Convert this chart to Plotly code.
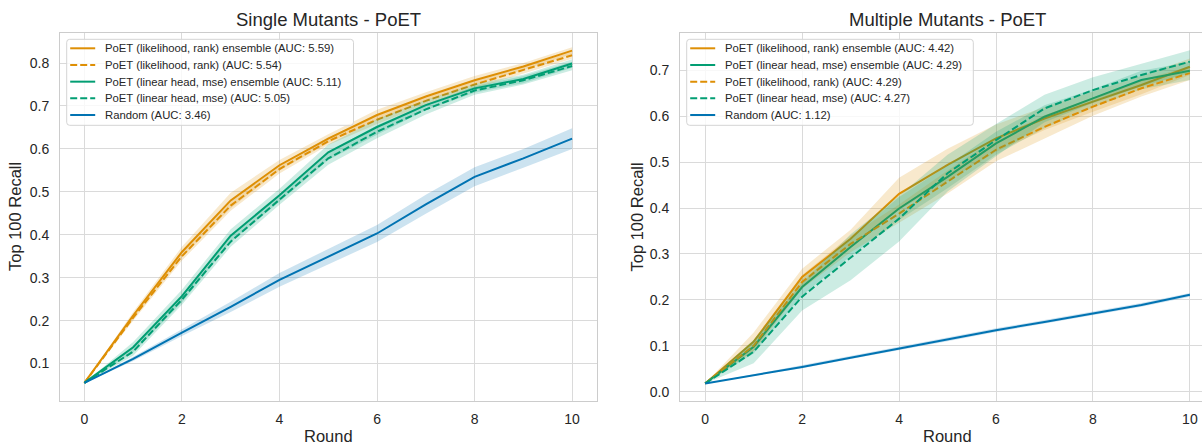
import plotly.graph_objects as go

W, H = 1202, 444

rounds = list(range(11))

# ---- Single Mutants - PoET ----
single_lr_ens = [0.055, 0.212, 0.360, 0.480, 0.562, 0.624, 0.679, 0.722, 0.760, 0.792, 0.829]
single_lr = [0.055, 0.207, 0.350, 0.468, 0.553, 0.618, 0.668, 0.712, 0.750, 0.784, 0.818]
single_lh_ens = [0.055, 0.138, 0.257, 0.398, 0.492, 0.592, 0.651, 0.702, 0.741, 0.763, 0.799]
single_lh = [0.055, 0.128, 0.249, 0.384, 0.482, 0.578, 0.640, 0.692, 0.736, 0.760, 0.793]
single_random = [0.055, 0.111, 0.172, 0.232, 0.295, 0.349, 0.403, 0.471, 0.535, 0.578, 0.624]

single_lr_ens_err = [0, 0.008, 0.012, 0.018, 0.012, 0.010, 0.012, 0.010, 0.010, 0.008, 0.008]
single_lr_err = [0, 0.007, 0.010, 0.012, 0.010, 0.009, 0.010, 0.009, 0.009, 0.008, 0.008]
single_lh_ens_err = [0, 0.012, 0.015, 0.015, 0.015, 0.018, 0.018, 0.012, 0.010, 0.010, 0.010]
single_lh_err = [0, 0.010, 0.012, 0.012, 0.012, 0.015, 0.015, 0.012, 0.010, 0.010, 0.010]
single_random_err = [0, 0.005, 0.008, 0.012, 0.016, 0.018, 0.020, 0.022, 0.022, 0.022, 0.024]

# ---- Multiple Mutants - PoET ----
multi_lr_ens = [0.018, 0.109, 0.250, 0.333, 0.431, 0.494, 0.552, 0.595, 0.632, 0.668, 0.708]
multi_lh_ens = [0.018, 0.098, 0.228, 0.315, 0.399, 0.468, 0.541, 0.599, 0.639, 0.679, 0.699]
multi_lr = [0.018, 0.100, 0.239, 0.322, 0.388, 0.457, 0.527, 0.577, 0.621, 0.661, 0.694]
multi_lh = [0.018, 0.087, 0.207, 0.293, 0.377, 0.476, 0.548, 0.617, 0.657, 0.690, 0.719]
multi_random = [0.018, 0.036, 0.054, 0.074, 0.094, 0.114, 0.134, 0.152, 0.171, 0.189, 0.211]

multi_lr_ens_err = [0, 0.020, 0.018, 0.020, 0.035, 0.035, 0.030, 0.025, 0.022, 0.020, 0.018]
multi_lh_ens_err = [0, 0.015, 0.018, 0.020, 0.025, 0.025, 0.025, 0.025, 0.020, 0.020, 0.020]
multi_lr_err = [0, 0.012, 0.015, 0.018, 0.020, 0.025, 0.025, 0.025, 0.020, 0.018, 0.015]
multi_lh_err = [0, 0.025, 0.030, 0.050, 0.050, 0.040, 0.035, 0.030, 0.028, 0.025, 0.025]
multi_random_err = [0, 0.002, 0.003, 0.003, 0.004, 0.004, 0.004, 0.004, 0.004, 0.004, 0.004]

single_labels = [
    "PoET (likelihood, rank) ensemble (AUC: 5.59)",
    "PoET (likelihood, rank) (AUC: 5.54)",
    "PoET (linear head, mse) ensemble (AUC: 5.11)",
    "PoET (linear head, mse) (AUC: 5.05)",
    "Random (AUC: 3.46)",
]
multi_labels = [
    "PoET (likelihood, rank) ensemble (AUC: 4.42)",
    "PoET (linear head, mse) ensemble (AUC: 4.29)",
    "PoET (likelihood, rank) (AUC: 4.29)",
    "PoET (linear head, mse) (AUC: 4.27)",
    "Random (AUC: 1.12)",
]

ORANGE = (222, 143, 5)
GREEN = (2, 158, 115)
BLUE = (1, 115, 178)
FONT = "Liberation Sans, Arial, Helvetica, sans-serif"
TXT = "#262626"
DASH = "7px,3px"


def rgb(c, a=None):
    if a is None:
        return "rgb(%d,%d,%d)" % c
    return "rgba(%d,%d,%d,%.2f)" % (c + (a,))


fig = go.Figure()


def add_series(x, y, err, color, dash, name, xa, ya):
    lo = [v - e for v, e in zip(y, err)]
    hi = [v + e for v, e in zip(y, err)]
    fig.add_trace(go.Scatter(x=x, y=lo, mode="lines", line=dict(width=0, color=rgb(color)),
                             showlegend=False, hoverinfo="skip", xaxis=xa, yaxis=ya))
    fig.add_trace(go.Scatter(x=x, y=hi, mode="lines", line=dict(width=0, color=rgb(color)),
                             fill="tonexty", fillcolor=rgb(color, 0.2),
                             showlegend=False, hoverinfo="skip", xaxis=xa, yaxis=ya))
    fig.add_trace(go.Scatter(x=x, y=y, mode="lines", name=name, showlegend=False,
                             line=dict(width=2, color=rgb(color), dash=dash),
                             xaxis=xa, yaxis=ya))


single_styles = [(ORANGE, "solid"), (ORANGE, DASH), (GREEN, "solid"), (GREEN, DASH), (BLUE, "solid")]
multi_styles = [(ORANGE, "solid"), (GREEN, "solid"), (ORANGE, DASH), (GREEN, DASH), (BLUE, "solid")]

single_series = [(single_lr_ens, single_lr_ens_err), (single_lr, single_lr_err),
                 (single_lh_ens, single_lh_ens_err), (single_lh, single_lh_err),
                 (single_random, single_random_err)]
multi_series = [(multi_lr_ens, multi_lr_ens_err), (multi_lh_ens, multi_lh_ens_err),
                (multi_lr, multi_lr_err), (multi_lh, multi_lh_err),
                (multi_random, multi_random_err)]

for (y, e), (c, d), lab in zip(single_series, single_styles, single_labels):
    add_series(rounds, y, e, c, d, lab, "x", "y")
for (y, e), (c, d), lab in zip(multi_series, multi_styles, multi_labels):
    add_series(rounds, y, e, c, d, lab, "x2", "y2")

GRID = "#dadada"
FRAME = "#cccccc"
ydom = [43 / H, 411 / H]

axis_common = dict(showgrid=True, gridcolor=GRID, gridwidth=1, zeroline=False,
                   showline=True, linecolor=FRAME, linewidth=1,
                   ticks="", tickfont=dict(family=FONT, size=14, color=TXT))

fig.update_layout(
    width=W, height=H,
    margin=dict(l=0, r=0, t=0, b=0),
    paper_bgcolor="white", plot_bgcolor="white",
    showlegend=False,
    xaxis=dict(domain=[60 / W, 596.5 / W], range=[-0.5, 10.5], tickvals=[0, 2, 4, 6, 8, 10],
               anchor="y", mirror=True, ticklabelstandoff=5, **axis_common),
    yaxis=dict(domain=ydom, range=[0.0128, 0.870], tickvals=[0.1, 0.2, 0.3, 0.4, 0.5, 0.6, 0.7, 0.8],
               tickformat=".1f", anchor="x", mirror=True, ticklabelstandoff=7, **axis_common),
    xaxis2=dict(domain=[680 / W, 1.0], range=[-0.52, 10.25], tickvals=[0, 2, 4, 6, 8, 10],
                anchor="y2", mirror=True, ticklabelstandoff=5, **axis_common),
    yaxis2=dict(domain=ydom, range=[-0.0203, 0.7814], tickvals=[0.0, 0.1, 0.2, 0.3, 0.4, 0.5, 0.6, 0.7],
                tickformat=".1f", anchor="x2", mirror=False, ticklabelstandoff=7, **axis_common),
)

# ---- titles and axis labels ----
annots = [
    dict(text="Single Mutants - PoET", x=(60 + 596.5) / 2 / W, y=1 - 20 / H, size=18.5),
    dict(text="Multiple Mutants - PoET", x=947 / W, y=1 - 20 / H, size=18.5),
    dict(text="Round", x=(60 + 596.5) / 2 / W, y=1 - 436 / H, size=16.5),
    dict(text="Round", x=947 / W, y=1 - 436 / H, size=16.5),
]
for a in annots:
    fig.add_annotation(text=a["text"], x=a["x"], y=a["y"], xref="paper", yref="paper",
                       xanchor="center", yanchor="middle", showarrow=False,
                       font=dict(family=FONT, size=a["size"], color=TXT))
for xp in (15, 636.5):
    fig.add_annotation(text="Top 100 Recall", x=xp / W, y=1 - 217 / H, xref="paper", yref="paper",
                       xanchor="center", yanchor="middle", showarrow=False, textangle=-90,
                       font=dict(family=FONT, size=16.5, color=TXT))


# ---- legends (matplotlib-style boxes, built from the label/style lists) ----
def px(x):
    return x / W


def py(y):
    return 1 - y / H


def rounded_rect(x0, y0, x1, y1, r):
    X0, X1 = px(x0), px(x1)
    Y0, Y1 = py(y0), py(y1)
    rx, ry = r / W, r / H
    return ("M %f %f L %f %f Q %f %f %f %f L %f %f Q %f %f %f %f L %f %f Q %f %f %f %f "
            "L %f %f Q %f %f %f %f Z") % (
        X0 + rx, Y0, X1 - rx, Y0, X1, Y0, X1, Y0 - ry, X1, Y1 + ry, X1, Y1, X1 - rx, Y1,
        X0 + rx, Y1, X0, Y1, X0, Y1 + ry, X0, Y0 - ry, X0, Y0, X0 + rx, Y0)


def add_legend(left, right, labels, styles):
    top, bottom = 39.3, 125.3
    fig.add_shape(type="path", path=rounded_rect(left, top, right, bottom, 3),
                  xref="paper", yref="paper", layer="above",
                  fillcolor="rgba(255,255,255,0.8)", line=dict(color="#d4d4d4", width=1))
    for i, (lab, (c, d)) in enumerate(zip(labels, styles)):
        yy = 48.3 + i * 16.68
        fig.add_shape(type="line", x0=px(left + 3.5), x1=px(left + 28.5), y0=py(yy), y1=py(yy),
                      xref="paper", yref="paper", layer="above",
                      line=dict(color=rgb(c), width=2, dash=d))
        fig.add_annotation(text=lab, x=px(left + 36.6), y=py(yy), xref="paper", yref="paper",
                           xanchor="left", yanchor="middle", showarrow=False,
                           font=dict(family=FONT, size=11.3, color=TXT))


add_legend(66.7, 353.5, single_labels, single_styles)
add_legend(686.7, 973.3, multi_labels, multi_styles)

fig.write_html("out.html")
